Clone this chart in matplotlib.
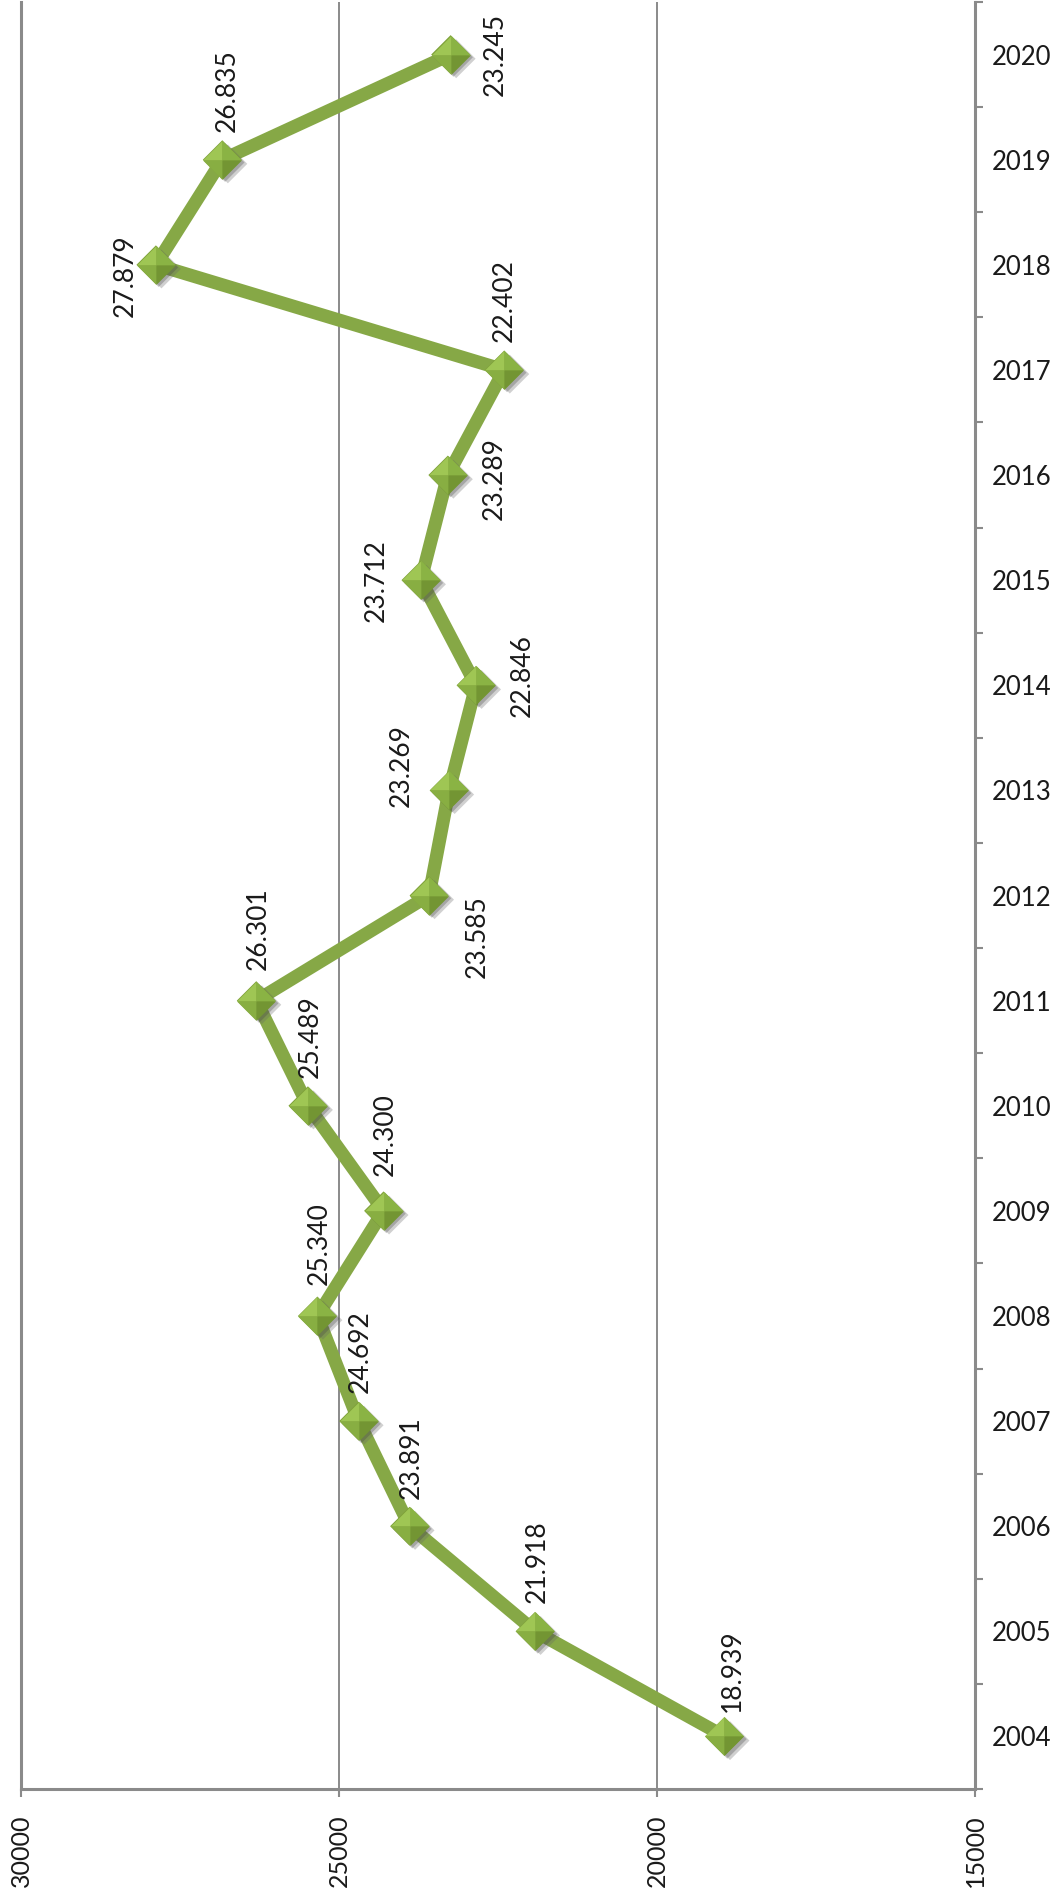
import numpy as np
import matplotlib
matplotlib.use("Agg")
import matplotlib.pyplot as plt
from matplotlib.path import Path
import matplotlib.patheffects as pe

years = ["2004", "2005", "2006", "2007", "2008", "2009", "2010", "2011", "2012",
         "2013", "2014", "2015", "2016", "2017", "2018", "2019", "2020"]
values = [18939, 21918, 23891, 24692, 25340, 24300, 25489, 26301, 23585,
          23269, 22846, 23712, 23289, 22402, 27879, 26835, 23245]
value_ticks = [30000, 25000, 20000, 15000]

# where each value label sits relative to its marker (pixels, x right / y up)
label_offsets = [(8, 66), (2, 70), (2, 69), (2, 70), (2, 72), (2, 76), (2, 69), (2, 72),
                 (48, -41), (-48, 25), (46, 10), (-45, 0), (46, -4), (0, 69),
                 (-31, -11), (5, 69), (45, 0)]

line_green = "#86a846"
axis_gray = "#8a8a8a"

plt.rcParams["font.family"] = ["Lato", "DejaVu Sans"]

fig = plt.figure(figsize=(10.62, 18.92), dpi=100)
ax = fig.add_axes([21 / 1062, 103 / 1892, (975 - 21) / 1062, (1890 - 103) / 1892])

pos = np.arange(len(years))

ax.plot(values, pos, color=line_green, lw=9.5, solid_joinstyle="miter", zorder=3)

# pyramid-style diamond markers: base with soft shadow, then four shaded facets
diamond = Path([(-1, 0), (0, 1), (1, 0), (0, -1), (-1, 0)])
ax.plot(values, pos, ls="none", marker=diamond, ms=28, mfc="#7fa23a", mec="none",
        zorder=4, path_effects=[pe.SimplePatchShadow(offset=(4, -3), shadow_rgbFace="#666666", alpha=0.3),
                                pe.SimplePatchShadow(offset=(2, -2), shadow_rgbFace="#444444", alpha=0.3),
                                pe.Normal()])
facets = [
    ([(-1, 0), (0, 1), (0, 0), (-1, 0)], "#9fc654"),
    ([(0, 1), (1, 0), (0, 0), (0, 1)], "#8ab344"),
    ([(-1, 0), (0, 0), (0, -1), (-1, 0)], "#88ae42"),
    ([(0, 0), (1, 0), (0, -1), (0, 0)], "#739533"),
]
for verts, col in facets:
    ax.plot(values, pos, ls="none", marker=Path(verts), ms=28, mfc=col, mec="none", zorder=5)

for v, p, (dx, dy) in zip(values, pos, label_offsets):
    txt = f"{v // 1000}.{v % 1000:03d}"
    ax.annotate(txt, (v, p), xytext=(dx, dy), textcoords="offset pixels",
                ha="center", va="center", rotation=90, fontsize=19, color="#1a1a1a", zorder=6)

ax.set_xlim(30000, 15000)
ax.set_ylim(-0.5, len(years) - 0.5)

ax.set_xticks(value_ticks)
ax.set_xticklabels([str(t) for t in value_ticks], rotation=90, fontsize=18, color="#1a1a1a")
ax.tick_params(axis="x", direction="out", length=6, width=1.5, color=axis_gray, pad=12)

ax.yaxis.tick_right()
ax.set_yticks(pos)
ax.set_yticklabels(years, fontsize=18.5, color="#1a1a1a")
ax.set_yticks(np.arange(-0.5, len(years)), minor=True)
ax.tick_params(axis="y", which="major", length=0, pad=12)
ax.tick_params(axis="y", which="minor", direction="out", length=6, width=1.5, color=axis_gray)

ax.grid(axis="x", color=axis_gray, lw=1.4)
ax.set_axisbelow(True)

for side in ["left", "bottom", "right"]:
    ax.spines[side].set_color(axis_gray)
    ax.spines[side].set_linewidth(2.2)
ax.spines["top"].set_visible(False)

fig.savefig("out.png", dpi=100, facecolor="white")
